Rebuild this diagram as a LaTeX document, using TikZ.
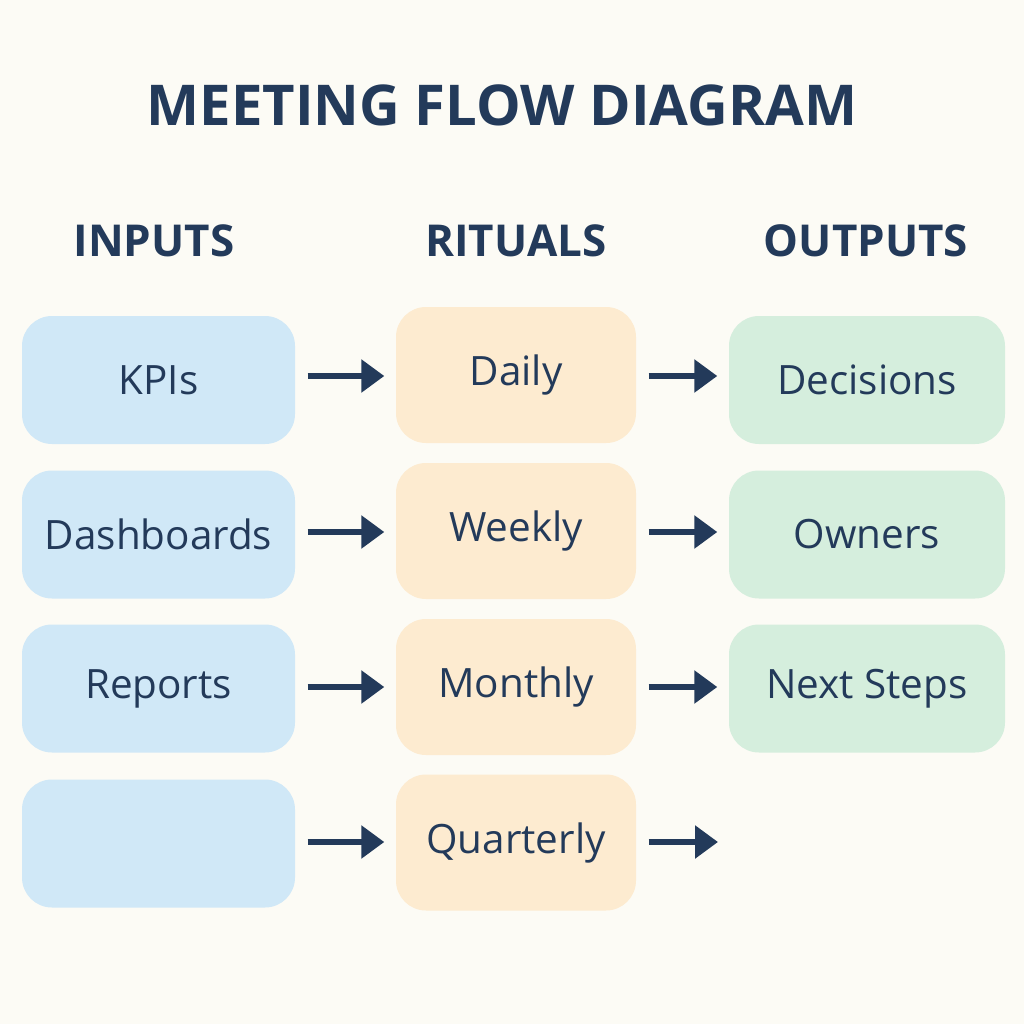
\documentclass[tikz,border=0pt]{standalone}
\usepackage{fontspec}
\setmainfont{Open Sans}
\usetikzlibrary{arrows.meta}
\definecolor{ink}{HTML}{233A5A}
\definecolor{paper}{HTML}{FCFBF5}
\definecolor{inblue}{HTML}{D0E8F7}
\definecolor{ritorange}{HTML}{FDEBD0}
\definecolor{outgreen}{HTML}{D5EEDD}
\tikzset{
  box/.style={rounded corners=0.3cm, draw=none, inner sep=0pt, text=ink, font=\fontsize{11.5}{14}\selectfont, align=center},
  inbox/.style={box, fill=inblue, minimum width=2.73cm, minimum height=1.28cm},
  ritbox/.style={box, fill=ritorange, minimum width=2.4cm, minimum height=1.36cm},
  outbox/.style={box, fill=outgreen, minimum width=2.76cm, minimum height=1.28cm},
  head/.style={text=ink, font=\bfseries\fontsize{12.5}{15}\selectfont},
  flow/.style={draw=ink, line width=1.6pt, -{Triangle[length=2.3mm,width=3.2mm]}, shorten <=0.12cm, shorten >=0.11cm}
}
\begin{document}
\begin{tikzpicture}
    \fill[paper] (0,0) rectangle (10.24,-10.24);
    \useasboundingbox (0,0) rectangle (10.24,-10.24);
    % title and column heads
    \node[text=ink, font=\bfseries\fontsize{16}{19}\selectfont] (title) at (5.02,-1.05) {MEETING FLOW DIAGRAM};
    \node[head] (hin) at (1.54,-2.41) {INPUTS};
    \node[head] (hrit) at (5.16,-2.41) {RITUALS};
    \node[head] (hout) at (8.66,-2.41) {OUTPUTS};
    % boxes
    \foreach \i/\txt/\y in {1/KPIs/-3.80, 2/Dashboards/-5.345, 3/Reports/-6.885, 4/{}/-8.435}
        \node[inbox] (in\i) at (1.585,\y) {\txt};
    \foreach \i/\txt/\y in {1/Daily/-3.75, 2/Weekly/-5.31, 3/Monthly/-6.87, 4/Quarterly/-8.425}
        \node[ritbox] (rit\i) at (5.16,\y) {\txt};
    \foreach \i/\txt/\y in {1/Decisions/-3.80, 2/Owners/-5.345, 3/Next Steps/-6.885}
        \node[outbox] (out\i) at (8.67,\y) {\txt};
    \coordinate (out4) at (7.29,-8.42);
    % arrows
    \foreach \i/\y in {1/-3.76, 2/-5.32, 3/-6.87, 4/-8.42} {
        \draw[flow] (in\i.east |- 0,\y) -- (rit\i.west |- 0,\y);
        \draw[flow] (rit\i.east |- 0,\y) -- (out\i.west |- 0,\y);
    }
\end{tikzpicture}
\end{document}
